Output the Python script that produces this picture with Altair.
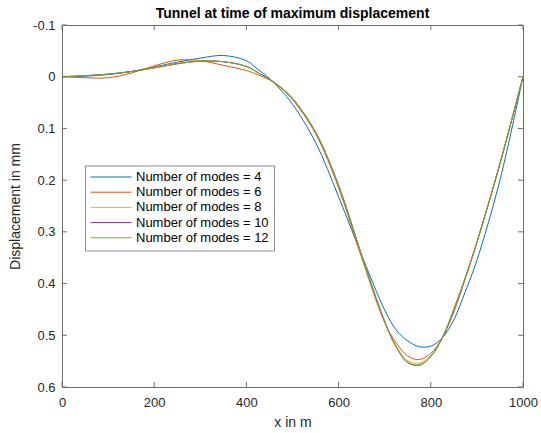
import altair as alt
import pandas as pd

# Positions along the tunnel (m)
x_m = [0, 50, 100, 150, 200, 250, 300, 350, 400, 425, 450, 475, 500, 550,
       600, 650, 700, 725, 750, 775, 800, 825, 850, 875, 900, 950, 1000]

# Displacement (mm) for each number of modes
modes_4 = [0, -0.001, -0.004, -0.010, -0.019, -0.028, -0.036, -0.041, -0.031, -0.014,
           0.003, 0.026, 0.053, 0.127, 0.232, 0.345, 0.451, 0.490, 0.511, 0.522,
           0.521, 0.505, 0.470, 0.415, 0.355, 0.200, 0]
modes_6 = [0, 0.002, 0.002, -0.007, -0.021, -0.032, -0.031, -0.022, -0.012, -0.004,
           0.006, 0.022, 0.044, 0.110, 0.215, 0.350, 0.475, 0.515, 0.540, 0.547,
           0.535, 0.505, 0.455, 0.390, 0.320, 0.168, 0]
modes_8 = [0, -0.002, -0.005, -0.010, -0.018, -0.026, -0.031, -0.029, -0.020, -0.008,
           0.005, 0.021, 0.042, 0.107, 0.211, 0.346, 0.473, 0.521, 0.549, 0.554,
           0.539, 0.504, 0.450, 0.389, 0.321, 0.169, 0]
modes_10 = [0, -0.002, -0.005, -0.010, -0.017, -0.025, -0.030, -0.029, -0.020, -0.008,
            0.005, 0.021, 0.042, 0.107, 0.210, 0.345, 0.474, 0.523, 0.553, 0.558,
            0.541, 0.505, 0.450, 0.388, 0.320, 0.168, 0]
modes_12 = [0, -0.002, -0.005, -0.010, -0.017, -0.025, -0.030, -0.029, -0.020, -0.008,
            0.005, 0.021, 0.042, 0.107, 0.210, 0.345, 0.473, 0.522, 0.552, 0.557,
            0.541, 0.505, 0.450, 0.388, 0.320, 0.168, 0]

series_names = ["Number of modes = 4", "Number of modes = 6", "Number of modes = 8",
                "Number of modes = 10", "Number of modes = 12"]
series_values = [modes_4, modes_6, modes_8, modes_10, modes_12]
series_colors = ["#0072BD", "#D95319", "#EDB120", "#7E2F8E", "#77AC30"]

x_ticks = [0, 200, 400, 600, 800, 1000]
y_ticks = [-0.1, 0, 0.1, 0.2, 0.3, 0.4, 0.5, 0.6]

W, H = 461, 362
TICK = 5
AXIS_COLOR = "#6e6e6e"
TEXT_COLOR = "#262626"
FONT = "Liberation Sans"

rows = []
for name, vals in zip(series_names, series_values):
    for xv, yv in zip(x_m, vals):
        rows.append({"x": xv, "disp": yv, "series": name})
df = pd.DataFrame(rows)

x_scale = alt.Scale(domain=[0, 1000], nice=False, zero=False)
y_scale = alt.Scale(domain=[-0.1, 0.6], reverse=True, nice=False, zero=False)

lines = alt.Chart(df).mark_line(strokeWidth=1, interpolate="catmull-rom").encode(
    x=alt.X("x:Q", scale=x_scale, title="x in m",
            axis=alt.Axis(values=x_ticks, format="d", labelPadding=9, titlePadding=6,
                          labelFlush=False)),
    y=alt.Y("disp:Q", scale=y_scale, title="Displacement in mm",
            axis=alt.Axis(values=y_ticks, labelPadding=7, titlePadding=10, labelFlush=False,
                          labelExpr="datum.value == 0 ? '0' : (datum.value < 0 ? '-' : '') + format(abs(datum.value), '.1f')")),
    color=alt.Color("series:N",
                    scale=alt.Scale(domain=series_names, range=series_colors),
                    legend=alt.Legend(title=None, orient="none", legendX=23, legendY=140.5,
                                      symbolType="stroke", symbolSize=1681,
                                      symbolStrokeWidth=1, labelFontSize=13,
                                      labelFont=FONT, labelColor="black",
                                      labelOffset=4, clipHeight=13, rowPadding=1.2,
                                      padding=5,
                                      strokeColor="#8c8c8c", fillColor="white")),
    order=alt.Order("x:Q"),
)

# Inward-pointing tick marks on all four sides of the box
xt = pd.DataFrame({"t": x_ticks})
yt = pd.DataFrame({"t": y_ticks})
rule = dict(color=AXIS_COLOR, strokeWidth=1)

x_bottom = alt.Chart(xt).mark_rule(**rule).encode(
    x=alt.X("t:Q", scale=x_scale), y=alt.value(H), y2=alt.value(H - TICK))
x_top = alt.Chart(xt).mark_rule(**rule).encode(
    x=alt.X("t:Q", scale=x_scale), y=alt.value(0), y2=alt.value(TICK))
y_left = alt.Chart(yt).mark_rule(**rule).encode(
    y=alt.Y("t:Q", scale=y_scale), x=alt.value(0), x2=alt.value(TICK))
y_right = alt.Chart(yt).mark_rule(**rule).encode(
    y=alt.Y("t:Q", scale=y_scale), x=alt.value(W), x2=alt.value(W - TICK))

chart = alt.layer(lines, x_bottom, x_top, y_left, y_right).properties(
    width=W, height=H,
    autosize=alt.AutoSizeParams(type="none"),
    padding={"left": 62, "top": 25, "right": 18, "bottom": 46},
    title=alt.TitleParams("Tunnel at time of maximum displacement", fontSize=14,
                          fontWeight="bold", font=FONT, color="black",
                          anchor="middle", offset=-2),
).configure(
    background="white"
).configure_view(
    stroke=AXIS_COLOR, strokeWidth=1
).configure_axis(
    domain=False, ticks=False, grid=False,
    labelFont=FONT, labelFontSize=13, labelColor=TEXT_COLOR,
    titleFont=FONT, titleFontSize=14, titleFontWeight="normal", titleColor=TEXT_COLOR,
)

chart.save("out.html", embed_options={"renderer": "svg", "actions": False})
